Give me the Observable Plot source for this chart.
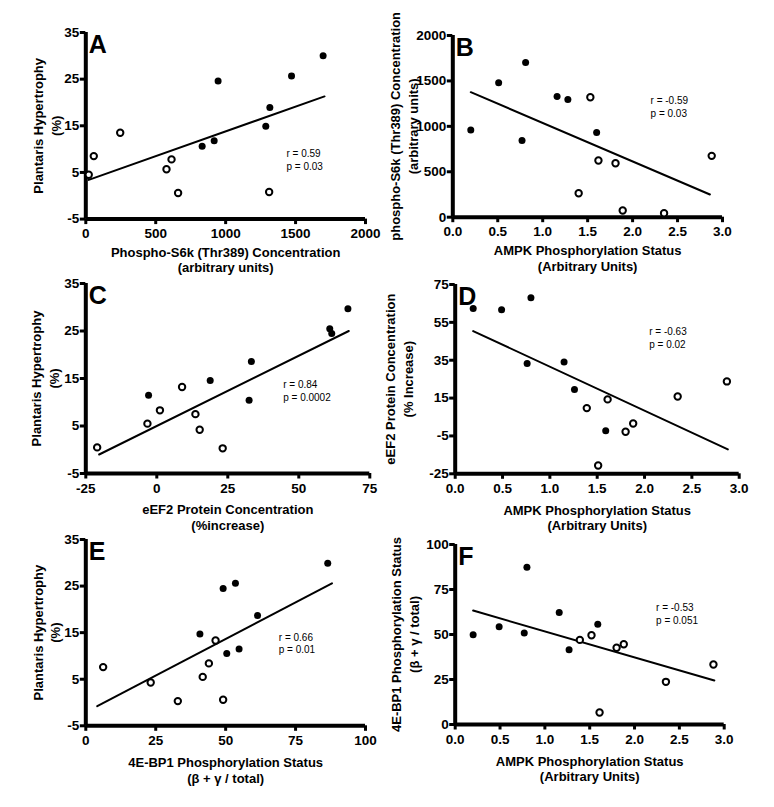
<!DOCTYPE html>
<html>
<head>
<meta charset="utf-8">
<script src="https://cdn.jsdelivr.net/npm/d3@7"></script>
<script src="https://cdn.jsdelivr.net/npm/@observablehq/plot@0.6"></script>
<style>
  html, body { margin: 0; padding: 0; background: white; }
  #page { position: relative; width: 774px; height: 807px; overflow: hidden; background: white; }
  #page svg { position: absolute; }
</style>
</head>
<body>
<div id="page"></div>
<script>
// ---------- Data ----------
// Panel A: Phospho-S6k (x) vs Plantaris hypertrophy (y)
const aFilledX = [832, 918, 946, 1287, 1316, 1471, 1697];
const aFilledY = [10.6, 11.8, 24.6, 14.9, 18.9, 25.7, 30.0];
const aOpenX = [21, 57, 246, 577, 613, 660, 1311];
const aOpenY = [4.5, 8.5, 13.5, 5.7, 7.8, 0.6, 0.8];
const aFitX = [21, 1707];
const aFitY = [3.4, 21.3];
const aXTicks = [0, 500, 1000, 1500, 2000];
const aYTicks = [-5, 5, 15, 25, 35];

// Panel B: AMPK (x) vs phospho-S6k (y)
const bFilledX = [0.20, 0.51, 0.77, 0.81, 1.16, 1.28, 1.60];
const bFilledY = [961, 1479, 844, 1703, 1328, 1295, 932];
const bOpenX = [1.40, 1.53, 1.62, 1.81, 1.89, 2.35, 2.88];
const bOpenY = [264, 1321, 624, 594, 73, 44, 675];
const bFitX = [0.20, 2.86];
const bFitY = [1376, 250];
const bXTicks = [0, 0.5, 1, 1.5, 2, 2.5, 3];
const bYTicks = [0, 500, 1000, 1500, 2000];

// Panel C: eEF2 (x) vs Plantaris hypertrophy (y)
const cFilledX = [-2.9, 18.8, 32.5, 33.3, 60.9, 61.6, 67.3];
const cFilledY = [11.5, 14.6, 10.4, 18.6, 25.5, 24.5, 29.7];
const cOpenX = [-21.0, -3.3, 1.1, 8.9, 13.6, 15.1, 23.2];
const cOpenY = [0.5, 5.5, 8.3, 13.2, 7.5, 4.2, 0.3];
const cFitX = [-20.3, 67.6];
const cFitY = [-1.0, 25.0];
const cXTicks = [-25, 0, 25, 50, 75];
const cYTicks = [-5, 5, 15, 25, 35];

// Panel D: AMPK (x) vs eEF2 (y)
const dFilledX = [0.19, 0.49, 0.80, 0.76, 1.15, 1.26, 1.59];
const dFilledY = [62.3, 61.6, 68.0, 33.3, 34.0, 19.5, -2.3];
const dOpenX = [1.39, 1.51, 1.61, 1.80, 1.88, 2.35, 2.87];
const dOpenY = [9.7, -20.6, 14.3, -2.8, 1.6, 15.8, 23.8];
const dFitX = [0.19, 2.88];
const dFitY = [50.4, -12.1];
const dXTicks = [0, 0.5, 1, 1.5, 2, 2.5, 3];
const dYTicks = [-25, -5, 15, 35, 55, 75];

// Panel E: 4E-BP1 (x) vs Plantaris hypertrophy (y)
const eFilledX = [40.8, 49.1, 50.4, 53.5, 54.8, 61.4, 86.5];
const eFilledY = [14.7, 24.5, 10.5, 25.6, 11.5, 18.7, 29.9];
const eOpenX = [6.2, 23.2, 32.9, 41.8, 44.0, 46.4, 49.1];
const eOpenY = [7.6, 4.3, 0.3, 5.5, 8.4, 13.3, 0.6];
const eFitX = [4.1, 88.0];
const eFitY = [-0.8, 25.6];
const eXTicks = [0, 25, 50, 75, 100];
const eYTicks = [-5, 5, 15, 25, 35];

// Panel F: AMPK (x) vs 4E-BP1 (y)
const fFilledX = [0.20, 0.49, 0.77, 0.80, 1.16, 1.27, 1.59];
const fFilledY = [49.8, 54.3, 50.9, 87.4, 62.2, 41.5, 55.7];
const fOpenX = [1.39, 1.52, 1.61, 1.80, 1.88, 2.35, 2.88];
const fOpenY = [47.0, 49.6, 6.7, 42.6, 44.6, 23.7, 33.3];
const fFitX = [0.20, 2.89];
const fFitY = [63.3, 24.4];
const fXTicks = [0, 0.5, 1, 1.5, 2, 2.5, 3];
const fYTicks = [0, 25, 50, 75, 100];

const FONT = "'Liberation Sans', Arial, Helvetica, sans-serif";
const intFmt = d => String(d);
const oneDec = d => d.toFixed(1);

const panels = [
  {col: 0, l: 85.3, r: 365, t: 31.7, b: 218.3, xDomain: [0, 2000], yDomain: [-5, 35],
   xTicks: aXTicks, yTicks: aYTicks, xFmt: intFmt,
   fx: aFilledX, fy: aFilledY, ox: aOpenX, oy: aOpenY, lx: aFitX, ly: aFitY,
   letter: "A", stats: "r = 0.59\np = 0.03", sx: 1435, sy: 7.8,
   xTitle: "Phospho-S6k (Thr389) Concentration\n(arbitrary units)", xdy: 40.5,
   yTitle: "Plantaris Hypertrophy\n(%)", ydx: -39.6},
  {col: 387, l: 452.3, r: 722, t: 35, b: 216.7, xDomain: [0, 3], yDomain: [0, 2000],
   xTicks: bXTicks, yTicks: bYTicks, xFmt: oneDec,
   fx: bFilledX, fy: bFilledY, ox: bOpenX, oy: bOpenY, lx: bFitX, ly: bFitY,
   letter: "B", stats: "r = -0.59\np = 0.03", sx: 2.20, sy: 1218,
   xTitle: "AMPK Phosphorylation Status\n(Arbitrary Units)", xdy: 41.1,
   yTitle: "phospho-S6k (Thr389) Concentration\n(arbitrary units)", ydx: -49.3},
  {col: 0, l: 85.3, r: 369.3, t: 283.3, b: 473.3, xDomain: [-25, 75], yDomain: [-5, 35],
   xTicks: cXTicks, yTicks: cYTicks, xFmt: intFmt,
   fx: cFilledX, fy: cFilledY, ox: cOpenX, oy: cOpenY, lx: cFitX, ly: cFitY,
   letter: "C", stats: "r = 0.84\np = 0.0002", sx: 44.5, sy: 12.5,
   xTitle: "eEF2 Protein Concentration\n(%increase)", xdy: 43.5,
   yTitle: "Plantaris Hypertrophy\n(%)", ydx: -41.3},
  {col: 387, l: 454.7, r: 738.7, t: 284, b: 473.3, xDomain: [0, 3], yDomain: [-25, 75],
   xTicks: dXTicks, yTicks: dYTicks, xFmt: oneDec,
   fx: dFilledX, fy: dFilledY, ox: dOpenX, oy: dOpenY, lx: dFitX, ly: dFitY,
   letter: "D", stats: "r = -0.63\np = 0.02", sx: 2.05, sy: 46.9,
   xTitle: "AMPK Phosphorylation Status\n(Arbitrary Units)", xdy: 43.5,
   yTitle: "eEF2 Protein Concentration\n(% Increase)", ydx: -56.7},
  {col: 0, l: 85.3, r: 365, t: 539.4, b: 725.7, xDomain: [0, 100], yDomain: [-5, 35],
   xTicks: eXTicks, yTicks: eYTicks, xFmt: intFmt,
   fx: eFilledX, fy: eFilledY, ox: eOpenX, oy: eOpenY, lx: eFitX, ly: eFitY,
   letter: "E", stats: "r = 0.66\np = 0.01", sx: 69.0, sy: 12.8,
   xTitle: "4E-BP1 Phosphorylation Status\n(β + γ / total)", xdy: 44.3,
   yTitle: "Plantaris Hypertrophy\n(%)", ydx: -39.8},
  {col: 387, l: 454.7, r: 723.7, t: 544, b: 724, xDomain: [0, 3], yDomain: [0, 100],
   xTicks: fXTicks, yTicks: fYTicks, xFmt: oneDec,
   fx: fFilledX, fy: fFilledY, ox: fOpenX, oy: fOpenY, lx: fFitX, ly: fFitY,
   letter: "F", stats: "r = -0.53\np = 0.051", sx: 2.24, sy: 61.7,
   xTitle: "AMPK Phosphorylation Status\n(Arbitrary Units)", xdy: 43.8,
   yTitle: "4E-BP1 Phosphorylation Status\n(β + γ / total)", ydx: -51}
];

const page = document.getElementById("page");

for (const c of panels) {
  const mt = 40, mb = 75;
  const fh = c.b - c.t;
  const height = mt + fh + mb;
  const filled = c.fx.map((x, i) => ({x, y: c.fy[i]}));
  const open = c.ox.map((x, i) => ({x, y: c.oy[i]}));
  const fit = c.lx.map((x, i) => ({x, y: c.ly[i]}));
  const svg = Plot.plot({
    width: 387,
    height,
    marginLeft: c.l - c.col,
    marginRight: c.col + 387 - c.r,
    marginTop: mt,
    marginBottom: mb,
    style: {background: "transparent", fontFamily: FONT, overflow: "visible", color: "black"},
    x: {domain: c.xDomain},
    y: {domain: c.yDomain},
    marks: [
      Plot.axisX({ticks: c.xTicks, tickFormat: c.xFmt, tickSize: 5.5, tickPadding: 4,
        fontSize: 13.5, fontWeight: "bold", strokeWidth: 3, label: null, fontFamily: FONT}),
      Plot.axisY({ticks: c.yTicks, tickFormat: intFmt, tickSize: 5.5, tickPadding: 1,
        fontSize: 13.5, fontWeight: "bold", strokeWidth: 3, label: null, fontFamily: FONT}),
      Plot.ruleX([c.xDomain[0]], {strokeWidth: 4, stroke: "black"}),
      Plot.ruleY([c.yDomain[0]], {strokeWidth: 4, stroke: "black"}),
      Plot.line(fit, {x: "x", y: "y", strokeWidth: 2, stroke: "black"}),
      Plot.dot(open, {x: "x", y: "y", r: 3.2, fill: "white", stroke: "black", strokeWidth: 2}),
      Plot.dot(filled, {x: "x", y: "y", r: 3.5, fill: "black", stroke: "none"}),
      Plot.text([c.letter], {text: d => d, frameAnchor: "top-left", textAnchor: "start", lineAnchor: "top",
        dx: 3, dy: 3, fontSize: 25, fontWeight: "bold", fontFamily: FONT}),
      Plot.text([{x: c.sx, y: c.sy, t: c.stats}], {x: "x", y: "y", text: "t", textAnchor: "start",
        lineAnchor: "middle", fontSize: 10, lineHeight: 1.27, fontWeight: "normal", fontFamily: FONT}),
      Plot.text([c.xTitle], {text: d => d, frameAnchor: "bottom", lineAnchor: "middle", dy: c.xdy,
        fontSize: 13, fontWeight: "bold", lineHeight: 1.2, fontFamily: FONT}),
      Plot.text([c.yTitle], {text: d => d, frameAnchor: "left", lineAnchor: "middle", textAnchor: "middle",
        rotate: -90, dx: c.ydx, fontSize: 13, fontWeight: "bold", lineHeight: 1.35, fontFamily: FONT})
    ]
  });
  svg.style.left = c.col + "px";
  svg.style.top = (c.t - mt) + "px";
  page.appendChild(svg);
}
</script>
</body>
</html>
